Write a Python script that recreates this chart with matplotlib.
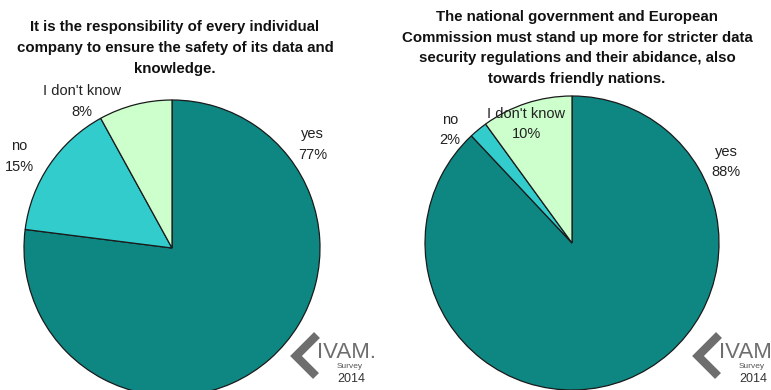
import matplotlib
matplotlib.use("Agg")
import matplotlib.pyplot as plt
from matplotlib.lines import Line2D

plt.rcParams['font.family'] = ['Liberation Sans', 'DejaVu Sans']

W, H = 771, 390

categories = ["yes", "no", "I don't know"]
left_values = [77, 15, 8]
right_values = [88, 2, 10]
colors = ["#0e8783", "#33cccc", "#ccffcc"]

left_title = ("It is the responsibility of every individual\n"
              "company to ensure the safety of its data and\n"
              "knowledge.")
right_title = ("The national government and European\n"
               "Commission must stand up more for stricter data\n"
               "security regulations and their abidance, also\n"
               "towards friendly nations.")

fig = plt.figure(figsize=(W / 100, H / 100), dpi=100)


def pie_axes(cx, cy, r):
    # cx, cy, r in pixels measured from the top-left corner
    ax = fig.add_axes([(cx - r) / W, (H - cy - r) / H, 2 * r / W, 2 * r / H])
    ax.set_xlim(-1, 1)
    ax.set_ylim(-1, 1)
    ax.set_axis_off()
    return ax


def draw_pie(ax, values, label_pos):
    ax.pie(values, colors=colors, startangle=90, counterclock=False,
           radius=1, wedgeprops=dict(edgecolor="#1a1a1a", linewidth=0.9))
    ax.set_xlim(-1, 1)
    ax.set_ylim(-1, 1)
    for name, val, (x, y) in zip(categories, values, label_pos):
        ax.text(x, y, f"{name}\n{val}%", ha="center", va="center",
                fontsize=10.5, color="#222222", linespacing=1.6,
                clip_on=False)


axL = pie_axes(172, 248, 148)
draw_pie(axL, left_values, [(0.95, 0.70), (-1.03, 0.62), (-0.61, 0.99)])

axR = pie_axes(572, 243, 147)
draw_pie(axR, right_values, [(1.05, 0.55), (-0.83, 0.77), (-0.31, 0.81)])

fig.text(175 / W, 1 - 48 / H, left_title, ha="center", va="center",
         fontsize=10.8, fontweight="bold", linespacing=1.62, color="#111111")
fig.text(577 / W, 1 - 48 / H, right_title, ha="center", va="center",
         fontsize=10.8, fontweight="bold", linespacing=1.62, color="#111111")


def logo(x0, y0):
    # x0, y0: pixel position of the chevron tip (top-left origin)
    def P(x, y):
        return ((x0 + x) / W, 1 - (y0 + y) / H)
    xs, ys = zip(*[P(21, -21), P(0, 0), P(20, 20)])
    fig.add_artist(Line2D(xs, ys, color="#6e6e6e", linewidth=6,
                          solid_joinstyle="miter", solid_capstyle="butt"))
    tx, ty = P(21, -4)
    fig.text(tx, ty, "IVAM.", fontsize=16, color="#6e6e6e",
             ha="left", va="center")
    sx, sy = P(41, 11)
    fig.text(sx, sy, "Survey", fontsize=6, color="#555555",
             ha="left", va="center")
    yx, yy = P(41, 23)
    fig.text(yx, yy, "2014", fontsize=9, color="#333333",
             ha="left", va="center")


logo(296, 356)
logo(698, 356)

fig.savefig("out.png", dpi=100, facecolor="white")
